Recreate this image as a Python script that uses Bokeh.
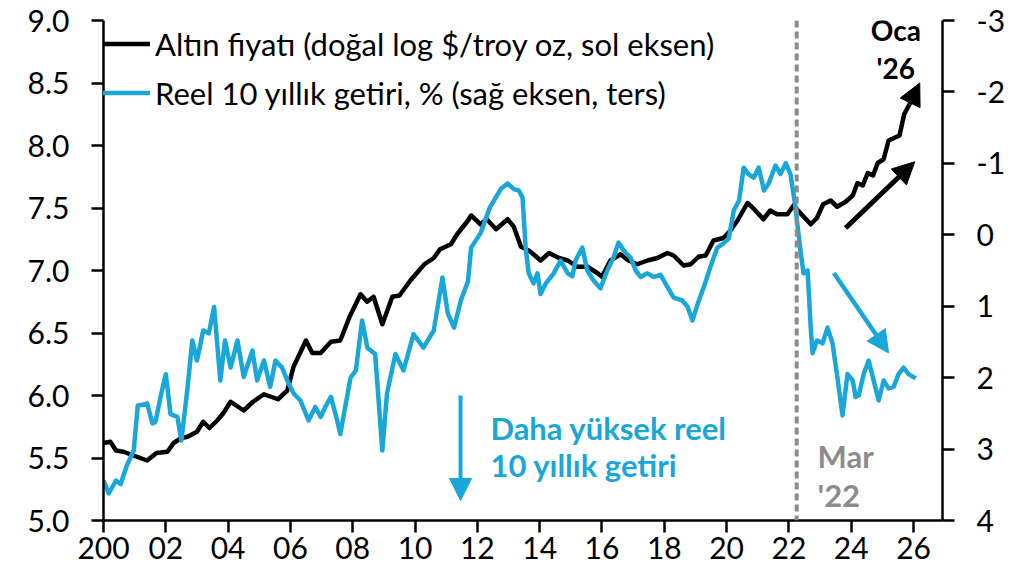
from bokeh.plotting import figure
from bokeh.models import (Range1d, LinearAxis, FixedTicker, Span, Arrow, NormalHead,
                          Legend, LegendItem, Label, NumeralTickFormatter)
from bokeh.embed import file_html
from bokeh.resources import INLINE

# ---------------- data ----------------
gold_x = [2000.00, 2000.22, 2000.40, 2000.64, 2000.96, 2001.40, 2001.70, 2002.05, 2002.25, 2002.50,
          2002.70, 2003.00, 2003.20, 2003.40, 2003.65, 2003.85, 2004.08, 2004.50, 2004.80, 2005.15,
          2005.60, 2005.90, 2006.10, 2006.50, 2006.70, 2006.97, 2007.30, 2007.60, 2007.90, 2008.25,
          2008.46, 2008.67, 2008.95, 2009.27, 2009.50, 2009.85, 2010.30, 2010.60, 2010.80, 2011.15,
          2011.35, 2011.70, 2011.80, 2012.10, 2012.30, 2012.60, 2012.97, 2013.17, 2013.40, 2013.65,
          2013.80, 2014.03, 2014.30, 2014.62, 2014.90, 2015.20, 2015.53, 2015.85, 2016.00, 2016.27,
          2016.60, 2016.85, 2017.13, 2017.46, 2017.78, 2018.10, 2018.30, 2018.62, 2018.85, 2019.10,
          2019.33, 2019.58, 2019.90, 2020.12, 2020.35, 2020.67, 2020.85, 2021.18, 2021.40, 2021.62,
          2021.95, 2022.15, 2022.40, 2022.70, 2022.90, 2023.10, 2023.34, 2023.55, 2023.82, 2024.05,
          2024.20, 2024.37, 2024.53, 2024.70, 2024.85, 2025.04, 2025.20, 2025.55, 2025.70, 2025.87]
gold_log = [5.62, 5.63, 5.56, 5.55, 5.52, 5.48, 5.54, 5.55, 5.62, 5.66,
            5.67, 5.71, 5.79, 5.74, 5.80, 5.86, 5.95, 5.88, 5.95, 6.01,
            5.97, 6.04, 6.23, 6.44, 6.34, 6.34, 6.43, 6.44, 6.63, 6.81,
            6.75, 6.79, 6.57, 6.79, 6.80, 6.92, 7.05, 7.10, 7.17, 7.21,
            7.29, 7.40, 7.44, 7.37, 7.41, 7.33, 7.41, 7.35, 7.19, 7.16,
            7.13, 7.08, 7.14, 7.10, 7.08, 7.03, 7.03, 6.98, 6.95, 7.08,
            7.13, 7.08, 7.05, 7.08, 7.10, 7.14, 7.12, 7.04, 7.05, 7.11,
            7.12, 7.24, 7.26, 7.32, 7.40, 7.54, 7.50, 7.41, 7.48, 7.45,
            7.45, 7.52, 7.45, 7.37, 7.42, 7.53, 7.56, 7.51, 7.55, 7.60,
            7.70, 7.68, 7.78, 7.76, 7.86, 7.89, 8.04, 8.08, 8.25, 8.33]
gold_tip = (2026.2, 8.50)

ry_x = [2000.00, 2000.17, 2000.40, 2000.55, 2000.75, 2000.97, 2001.10, 2001.25, 2001.40, 2001.57,
        2001.67, 2001.83, 2002.00, 2002.15, 2002.37, 2002.50, 2002.70, 2002.85, 2003.00, 2003.20,
        2003.38, 2003.55, 2003.75, 2003.90, 2004.08, 2004.30, 2004.50, 2004.78, 2004.93, 2005.15,
        2005.35, 2005.52, 2005.73, 2005.90, 2006.10, 2006.32, 2006.58, 2006.80, 2006.97, 2007.12,
        2007.30, 2007.50, 2007.60, 2007.93, 2008.10, 2008.30, 2008.47, 2008.72, 2008.95, 2009.10,
        2009.37, 2009.63, 2009.95, 2010.27, 2010.60, 2010.88, 2011.05, 2011.25, 2011.47, 2011.70,
        2011.80, 2012.10, 2012.40, 2012.75, 2012.97, 2013.17, 2013.33, 2013.45, 2013.55, 2013.65,
        2013.80, 2013.93, 2014.03, 2014.20, 2014.45, 2014.67, 2014.90, 2015.05, 2015.15, 2015.37,
        2015.53, 2015.73, 2015.95, 2016.17, 2016.37, 2016.53, 2016.75, 2016.92, 2017.08, 2017.24,
        2017.46, 2017.66, 2017.88, 2018.10, 2018.30, 2018.58, 2018.75, 2018.90, 2019.07, 2019.27,
        2019.48, 2019.70, 2019.90, 2020.07, 2020.23, 2020.40, 2020.55, 2020.70, 2020.87, 2021.03,
        2021.20, 2021.35, 2021.57, 2021.73, 2021.90, 2022.05, 2022.20, 2022.37, 2022.47, 2022.60,
        2022.70, 2022.76, 2022.90, 2023.08, 2023.24, 2023.40, 2023.57, 2023.72, 2023.88, 2024.05,
        2024.14, 2024.24, 2024.40, 2024.56, 2024.72, 2024.88, 2025.04, 2025.20, 2025.36, 2025.52,
        2025.68, 2025.84, 2026.07]
real_yield = [3.44, 3.62, 3.44, 3.49, 3.23, 3.02, 2.39, 2.38, 2.36, 2.64,
              2.62, 2.27, 1.95, 2.51, 2.55, 2.88, 2.13, 1.48, 1.76, 1.34,
              1.38, 1.01, 2.04, 1.48, 1.86, 1.48, 1.99, 1.62, 2.04, 1.76,
              2.13, 1.76, 1.86, 2.04, 2.22, 2.32, 2.60, 2.41, 2.55, 2.41,
              2.27, 2.60, 2.79, 2.00, 1.90, 1.20, 1.58, 1.67, 3.02, 2.22,
              1.67, 1.90, 1.39, 1.58, 1.34, 0.60, 1.10, 1.30, 0.92, 0.65,
              0.18, -0.02, -0.38, -0.64, -0.72, -0.64, -0.62, -0.52, 0.18, 0.54,
              0.68, 0.54, 0.83, 0.68, 0.54, 0.36, 0.54, 0.58, 0.36, 0.18,
              0.50, 0.64, 0.75, 0.50, 0.32, 0.11, 0.25, 0.32, 0.50, 0.59,
              0.54, 0.59, 0.56, 0.73, 0.88, 0.92, 1.01, 1.20, 0.97, 0.73,
              0.45, 0.18, 0.12, 0.05, -0.34, -0.48, -0.94, -0.85, -0.80, -0.94,
              -0.62, -0.72, -0.97, -0.85, -1.00, -0.85, -0.42, 0.22, 0.54, 0.50,
              1.30, 1.66, 1.48, 1.52, 1.30, 1.52, 2.04, 2.53, 1.95, 2.04,
              2.27, 2.25, 1.95, 1.76, 2.04, 2.32, 2.04, 2.15, 2.13, 1.95,
              1.86, 1.95, 2.01]

x_ticks = list(range(2000, 2027, 2))
x_tick_labels = ["200", "02", "04", "06", "08", "10", "12", "14", "16", "18", "20", "22", "24", "26"]
left_ticks = [5.0, 5.5, 6.0, 6.5, 7.0, 7.5, 8.0, 8.5, 9.0]
right_ticks = [-3, -2, -1, 0, 1, 2, 3, 4]
right_tick_labels = ["-3", "-2", "-1", "0", "1", "2", "3", "4"]

legend_labels = ["Altın fiyatı (doğal log $/troy oz, sol eksen)",
                 "Reel 10 yıllık getiri, % (sağ eksen, ters)"]
mar22 = 2022.25

# annotation arrows (x0, y0, x1, y1) in left-axis units
arrow_down = (2011.46, 6.00, 2011.46, 5.16)
arrow_black = (2023.82, 7.34, 2026.04, 7.87)
arrow_blue = (2023.44, 6.98, 2025.20, 6.34)

# text annotations: (text, x, y, align, color, size)
notes = [("Oca", 2025.43, 8.928, "center", "black", "28px"),
         ("'26", 2025.43, 8.624, "center", "black", "28px"),
         ("Daha yüksek reel", 2012.42, 5.744, "left", "#19a7da", "31px"),
         ("10 yıllık getiri", 2012.42, 5.448, "left", "#19a7da", "31px"),
         ("Mar", 2022.92, 5.52, "left", "#8c8c8c", "31px"),
         ("'22", 2022.92, 5.208, "left", "#8c8c8c", "31px")]

BLUE = "#19a7da"
FONT = "Lato"

# ---------------- figure ----------------
p = figure(width=1022, height=570, output_backend="svg", toolbar_location=None,
           x_range=Range1d(2000, 2026.93), y_range=Range1d(5.0, 9.0),
           min_border_left=103, min_border_right=80, min_border_top=20, min_border_bottom=50)
p.extra_y_ranges = {"ry": Range1d(4, -3)}
p.grid.visible = False
p.outline_line_color = None
p.background_fill_color = "white"
p.border_fill_color = "white"

ry_axis = LinearAxis(y_range_name="ry")
p.add_layout(ry_axis, "right")

for ax in [p.xaxis[0], p.yaxis[0], ry_axis]:
    ax.axis_line_width = 2.5
    ax.axis_line_color = "black"
    ax.major_tick_line_width = 2.5
    ax.major_tick_line_color = "black"
    ax.major_tick_in = 0
    ax.major_tick_out = 12
    ax.minor_tick_line_color = None
    ax.major_label_text_font = FONT
    ax.major_label_text_font_size = "30px"
    ax.major_label_text_color = "black"

p.xaxis[0].ticker = FixedTicker(ticks=x_ticks)
p.xaxis[0].major_label_overrides = {t: l for t, l in zip(x_ticks, x_tick_labels)}
p.xaxis[0].major_label_standoff = 4

p.yaxis[0].ticker = FixedTicker(ticks=left_ticks)
p.yaxis[0].formatter = NumeralTickFormatter(format="0.0")
p.yaxis[0].major_label_standoff = 22

ry_axis.ticker = FixedTicker(ticks=right_ticks)
ry_axis.major_label_overrides = {t: l for t, l in zip(right_ticks, right_tick_labels)}
ry_axis.major_label_standoff = 22

# ---------------- series ----------------
gold_r = p.line(gold_x, gold_log, line_color="black", line_width=4.5, line_join="round")
ry_r = p.line(ry_x, real_yield, line_color=BLUE, line_width=4.5, line_join="round",
              y_range_name="ry")

p.add_layout(Arrow(end=NormalHead(size=22, fill_color="black", line_color="black"),
                   x_start=gold_x[-1], y_start=gold_log[-1], x_end=gold_tip[0], y_end=gold_tip[1],
                   line_color="black", line_width=4.5))

p.add_layout(Span(location=mar22, dimension="height", line_color="#8c8c8c",
                  line_width=4, line_dash="7 4"))

for (x0, y0, x1, y1), col, w in [(arrow_down, BLUE, 4), (arrow_black, "black", 5), (arrow_blue, BLUE, 4.5)]:
    p.add_layout(Arrow(end=NormalHead(size=22, fill_color=col, line_color=col),
                       x_start=x0, y_start=y0, x_end=x1, y_end=y1,
                       line_color=col, line_width=w))

for txt, x, y, align, col, size in notes:
    p.add_layout(Label(x=x, y=y, text=txt, text_align=align, text_baseline="alphabetic",
                       text_color=col, text_font=FONT, text_font_style="bold",
                       text_font_size=size))

legend = Legend(items=[LegendItem(label=legend_labels[0], renderers=[gold_r]),
                       LegendItem(label=legend_labels[1], renderers=[ry_r])],
                location=(-28, 403), glyph_width=75, glyph_height=49, label_height=49,
                spacing=0, padding=0, margin=0, label_standoff=5,
                background_fill_alpha=0, border_line_color=None,
                label_text_font=FONT, label_text_font_size="31px", label_text_color="black")
p.add_layout(legend, "center")

open("out.html", "w").write(file_html(p, INLINE))
